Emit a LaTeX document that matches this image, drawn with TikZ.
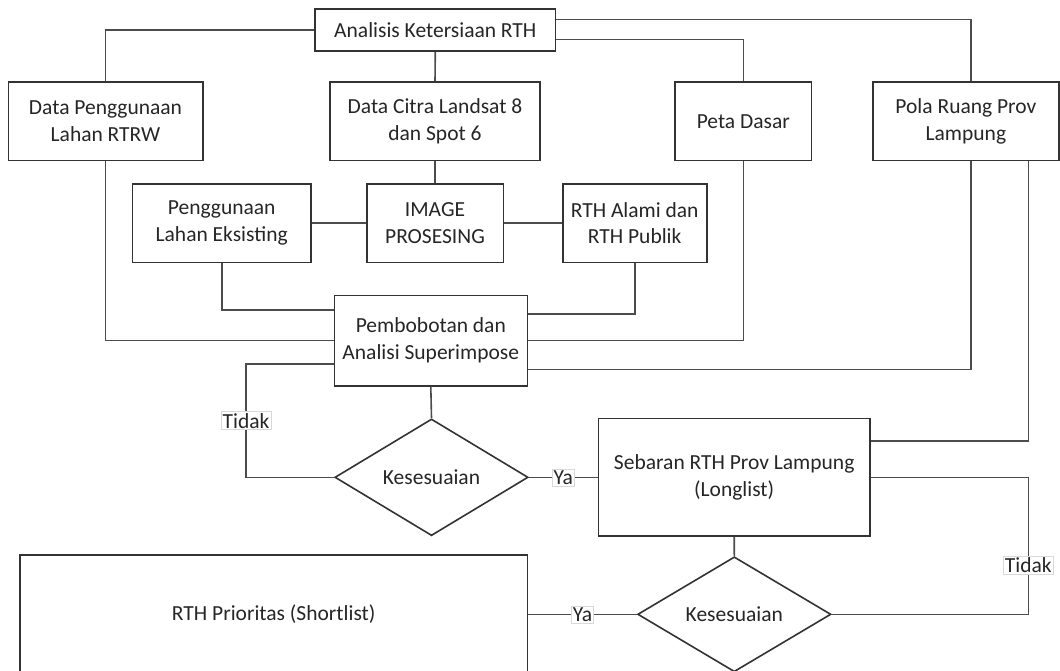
\documentclass[tikz,border=0pt]{standalone}
\usepackage{fontspec}
\setmainfont{Carlito}
\usepackage{tikz}
\usetikzlibrary{shapes.geometric}

\begin{document}
\begin{tikzpicture}[
  x=1pt, y=-1pt,
  font=\fontsize{21.5}{26.7}\selectfont, text=black!85,
  box/.style={draw=black!80, line width=1.6pt, align=center, inner sep=0pt,
              fill=white},
  dec/.style={draw=black!80, line width=1.6pt, shape=diamond, aspect=1.66,
              inner sep=0pt, minimum width=193.3pt, minimum height=116.7pt,
              fill=white},
  ln/.style={draw=black!70, line width=1.6pt},
  lbl/.style={fill=white, draw=black!15, line width=0.5pt, inner sep=1.5pt,
              font=\fontsize{21.5}{24}\selectfont},
]
\clip (0,0) rectangle (1060,670);
\fill[white] (0,0) rectangle (1060,670);
\node[box, minimum width=240.7pt, minimum height=42pt] (ana) at (435.3,30) {Analisis Ketersiaan RTH};
\node[box, minimum width=194.4pt, minimum height=78.7pt] (dpl) at (105.5,121.3) {Data Penggunaan\\Lahan RTRW};
\node[box, minimum width=210pt, minimum height=78.7pt] (citra) at (435,121.3) {Data Citra Landsat 8\\dan Spot 6};
\node[box, minimum width=136.7pt, minimum height=78.7pt] (peta) at (743.3,121.3) {Peta Dasar};
\node[box, minimum width=186.3pt, minimum height=78.7pt] (pola) at (965.9,121.3) {Pola Ruang Prov\\Lampung};
\node[box, minimum width=178.7pt, minimum height=78.6pt] (eks) at (221.7,223) {Penggunaan\\Lahan Eksisting};
\node[box, minimum width=136.6pt, minimum height=78.6pt] (img) at (435,223) {IMAGE\\PROSESING};
\node[box, minimum width=144pt, minimum height=78.6pt] (alami) at (634.7,223) {RTH Alami dan\\RTH Publik};
\node[box, minimum width=193pt, minimum height=90.4pt] (bobot) at (430.8,340.5) {Pembobotan dan\\Analisi Superimpose};
\node[dec] (ses1) at (431.5,477.3) {Kesesuaian};
\node[box, minimum width=271.7pt, minimum height=117.3pt] (seb) at (734.2,477.3) {Sebaran RTH Prov Lampung\\(Longlist)};
\node[dec, minimum height=115pt] (ses2) at (734.3,614.3) {Kesesuaian};
\node[box, minimum width=507.3pt, minimum height=118.6pt] (prio) at (273.7,614.3) {RTH Prioritas (Shortlist)};
\coordinate (tdk1) at (246,477.3);
\coordinate (tdk2) at (1028.3,477.3);
\coordinate (boblo) at ([yshift=-23.5pt]bobot.west);
\draw[ln] (ana.west) -| (dpl.north);
\draw[ln] (ana.south) -- (citra.north);
\draw[ln] ([yshift=-9.3pt]ana.east) -| (peta.north);
\draw[ln] ([yshift=10.7pt]ana.east) -| ([xshift=4.8pt]pola.north);
\draw[ln] (citra.south) -- (img.north);
\draw[ln] (eks.east) -- (img.west);
\draw[ln] (img.east) -- (alami.west);
\draw[ln] (eks.south) |- ([yshift=30.5pt]bobot.west);
\draw[ln] (alami.south) |- ([yshift=26.5pt]bobot.east);
\draw[ln] (dpl.south) |- (bobot.west);
\draw[ln] (peta.south) |- (bobot.east);
\draw[ln] ([xshift=4.8pt]pola.south) |- ([yshift=-28.8pt]bobot.east);
\draw[ln] ([xshift=62.4pt]pola.south) |- ([yshift=36.3pt]seb.east);
\draw[ln] (bobot.south) -- (ses1.north);
\draw[ln] (ses1.west) -- (tdk1) -- node[lbl] {Tidak} (tdk1 |- boblo) -- (boblo);
\draw[ln] (ses1.east) -- node[lbl] {Ya} (seb.west);
\draw[ln] (seb.south) -- (ses2.north);
\draw[ln] (seb.east) -- (tdk2) |- node[lbl, pos=0.32] {Tidak} (ses2.east);
\draw[ln] (ses2.west) -- node[lbl] {Ya} (prio.east);
\end{tikzpicture}
\end{document}
